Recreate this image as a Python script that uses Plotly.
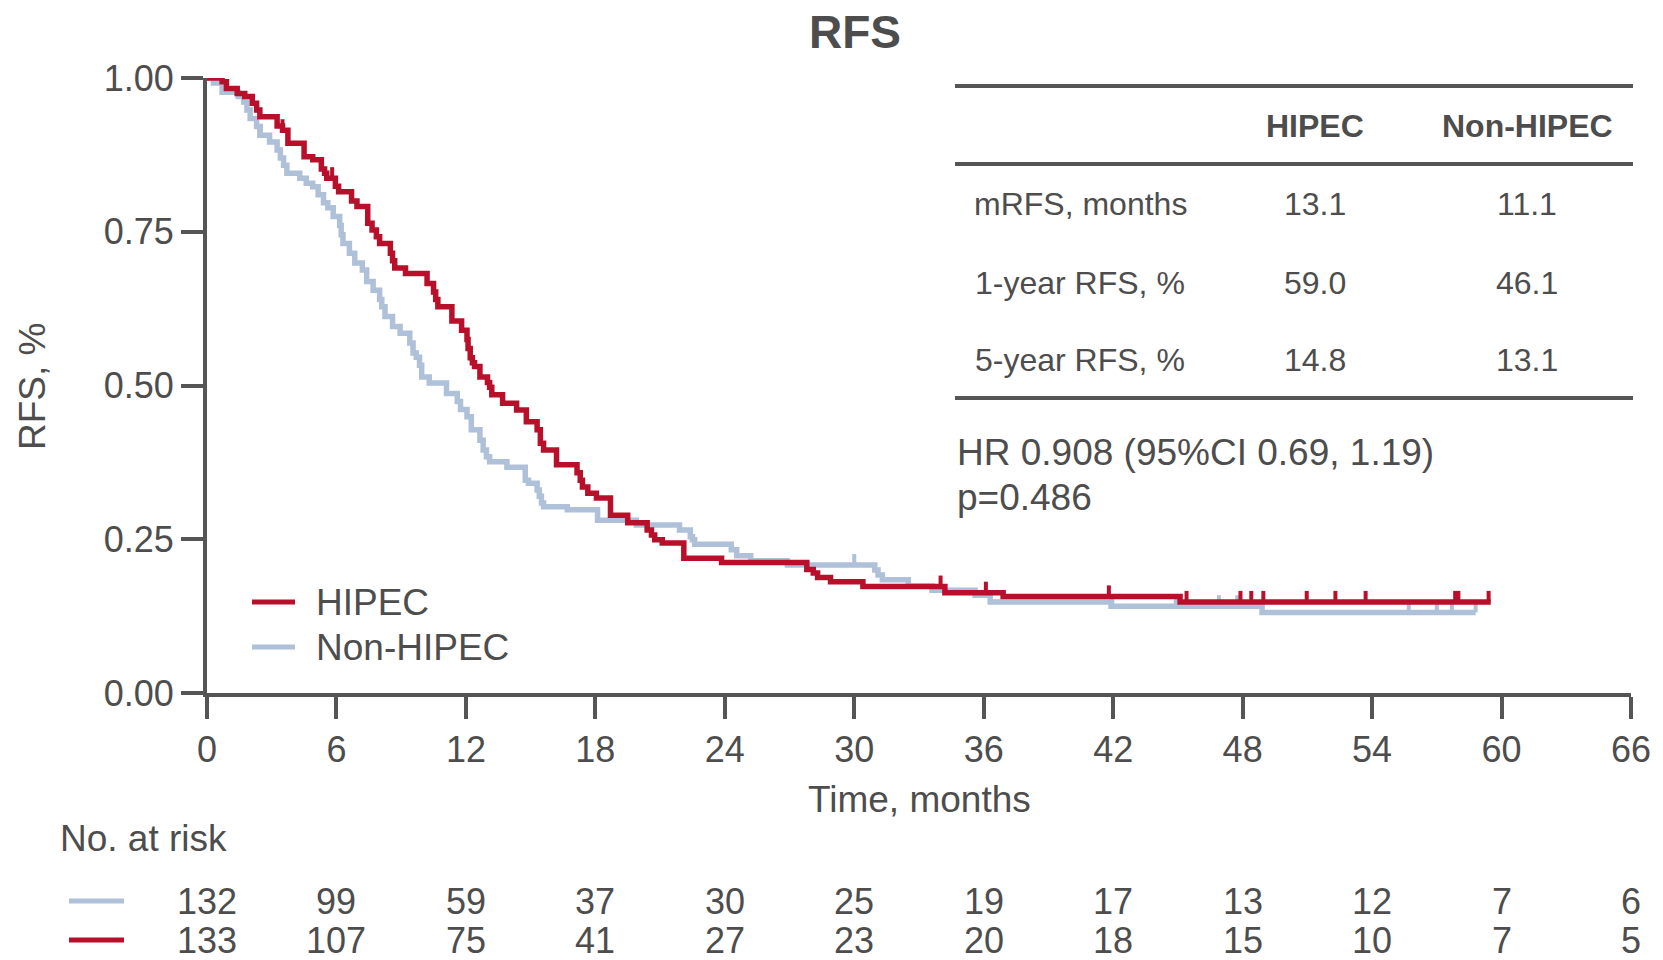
import plotly.graph_objects as go

# ---- Kaplan-Meier step coordinates: month at which each level starts, RFS fraction ----
hipec_t = [0, 0.7, 0.9, 1.4, 1.75, 2.1, 2.3, 2.45, 3.25, 3.5, 3.75, 4.5, 4.9, 5.3, 5.45,
           5.55, 5.95, 6.1, 6.7, 6.95, 7.45, 7.65, 7.85, 8.0, 8.5, 8.6, 8.7, 9.2, 10.2,
           10.5, 10.6, 10.7, 11.35, 11.8, 12.05, 12.1, 12.2, 12.3, 12.4, 12.65, 13.0,
           13.1, 13.2, 13.7, 14.35, 14.8, 15.3, 15.45, 15.6, 16.2, 17.15, 17.3, 17.4,
           17.65, 18.05, 18.7, 19.5, 20.4, 20.6, 20.75, 21.1, 22.1, 23.85, 27.8, 28.1,
           28.3, 28.9, 30.4, 34.2, 36.9, 45.1, 59.5]
hipec_s = [1.0, 0.994, 0.983, 0.975, 0.970, 0.959, 0.948, 0.937, 0.922, 0.915, 0.894,
           0.872, 0.867, 0.852, 0.845, 0.837, 0.824, 0.815, 0.800, 0.791, 0.764, 0.753,
           0.742, 0.731, 0.715, 0.703, 0.691, 0.682, 0.666, 0.652, 0.640, 0.628, 0.605,
           0.590, 0.575, 0.560, 0.545, 0.537, 0.531, 0.514, 0.505, 0.497, 0.485, 0.471,
           0.460, 0.441, 0.428, 0.406, 0.395, 0.371, 0.358, 0.346, 0.335, 0.325, 0.317,
           0.289, 0.277, 0.265, 0.257, 0.249, 0.244, 0.219, 0.212, 0.201, 0.195, 0.188,
           0.181, 0.173, 0.163, 0.157, 0.148, 0.148]

non_t = [0, 0.3, 0.7, 1.45, 1.7, 1.85, 2.0, 2.3, 2.45, 2.9, 3.25, 3.4, 3.55, 3.7, 4.3,
         4.6, 4.9, 5.15, 5.4, 5.6, 5.85, 6.15, 6.22, 6.3, 6.6, 6.85, 7.2, 7.4, 7.7, 8.0,
         8.1, 8.25, 8.6, 8.95, 9.4, 9.55, 9.7, 9.85, 9.95, 10.3, 11.1, 11.6, 11.75, 12.05,
         12.25, 12.65, 12.8, 12.95, 13.1, 13.9, 14.75, 14.9, 15.3, 15.4, 15.5, 15.6, 16.7,
         18.1, 19.9, 21.9, 22.4, 22.5, 22.6, 24.3, 24.55, 25.2, 26.9, 30.95, 31.1, 31.3,
         32.5, 33.6, 35.6, 36.3, 41.9, 48.9, 58.8]
non_s = [1.0, 0.992, 0.977, 0.970, 0.961, 0.948, 0.934, 0.921, 0.907, 0.896, 0.883,
         0.870, 0.858, 0.845, 0.837, 0.829, 0.823, 0.810, 0.797, 0.789, 0.775, 0.760,
         0.745, 0.731, 0.715, 0.699, 0.688, 0.669, 0.655, 0.640, 0.628, 0.612, 0.596,
         0.585, 0.569, 0.553, 0.546, 0.533, 0.514, 0.504, 0.487, 0.474, 0.461, 0.449,
         0.428, 0.411, 0.395, 0.384, 0.376, 0.367, 0.346, 0.341, 0.330, 0.320, 0.309,
         0.303, 0.298, 0.281, 0.273, 0.265, 0.254, 0.249, 0.242, 0.233, 0.223, 0.215,
         0.208, 0.200, 0.192, 0.184, 0.174, 0.167, 0.159, 0.148, 0.141, 0.131, 0.131]

# censoring times (months)
hipec_cens = [0.3, 0.7, 3.5, 5.8, 11.8, 34.0, 36.1, 41.8, 45.4, 47.9, 48.4, 48.96,
              50.97, 52.3, 53.7, 57.85, 58.0, 59.4]
non_cens = [2.5, 18.1, 30.0, 41.96, 44.9, 46.9, 47.75, 55.7, 57.0, 57.7, 58.8]

# numbers at risk
risk_times = [0, 6, 12, 18, 24, 30, 36, 42, 48, 54, 60, 66]
risk_non = [132, 99, 59, 37, 30, 25, 19, 17, 13, 12, 7, 6]
risk_hipec = [133, 107, 75, 41, 27, 23, 20, 18, 15, 10, 7, 5]

# summary table
table_cols = ["HIPEC", "Non-HIPEC"]
table_rows = ["mRFS, months", "1-year RFS, %", "5-year RFS, %"]
table_hipec = ["13.1", "59.0", "14.8"]
table_non = ["11.1", "46.1", "13.1"]
hr_text = "HR 0.908 (95%CI 0.69, 1.19)"
p_text = "p=0.486"

RED = "#B8102B"
BLUE = "#AFC0D9"
INK = "#4D4D4D"
AXIS = "#555555"
FONT = "Liberation Sans, Arial, sans-serif"

W, H = 1663, 960
L, R, T, B = 207, 32, 78, 267
PW, PH = W - L - R, H - T - B


def px(x):
    return (x - L) / PW


def py(y):
    return (H - B - y) / PH


def level_at(ts, ss, t):
    val = ss[0]
    for ti, si in zip(ts, ss):
        if ti <= t:
            val = si
    return val


def censor_marks(ts, ss, times, height=0.018):
    xs, ys = [], []
    for c in times:
        s = level_at(ts, ss, c)
        xs += [c, c, None]
        ys += [s, s + height, None]
    return xs, ys


def label(text, x, y, size, xanchor="center", xref="paper", **kw):
    return dict(text=text, x=x, y=y, xref=xref, yref="paper", xanchor=xanchor,
                yanchor="middle", showarrow=False,
                font=dict(size=size, color=INK, family=FONT), **kw)


fig = go.Figure()

for ts, ss, cens, col, name in [(non_t, non_s, non_cens, BLUE, "Non-HIPEC"),
                                (hipec_t, hipec_s, hipec_cens, RED, "HIPEC")]:
    fig.add_trace(go.Scatter(x=ts, y=ss, mode="lines", line=dict(color=col, width=5.5, shape="hv"),
                             name=name, showlegend=False, cliponaxis=False))
    cx, cy = censor_marks(ts, ss, cens)
    fig.add_trace(go.Scatter(x=cx, y=cy, mode="lines", line=dict(color=col, width=4),
                             showlegend=False, cliponaxis=False, hoverinfo="skip"))

ann = []
shapes = []

# title and axis titles
ann.append(label("<b>RFS</b>", px(855), py(32), 46))
ann.append(label("RFS, %", px(32), py(387), 37, textangle=-90))
ann.append(label("Time, months", 0.5, py(799), 37))

# in-plot legend
for name, col, yy in [("HIPEC", RED, 602), ("Non-HIPEC", BLUE, 647)]:
    shapes.append(dict(type="line", xref="paper", yref="paper", x0=px(252), x1=px(295),
                       y0=py(yy), y1=py(yy), line=dict(color=col, width=5)))
    ann.append(label(name, px(314), py(yy), 37, xanchor="left"))

# summary table
for yy in [86, 164, 398]:
    shapes.append(dict(type="line", xref="paper", yref="paper", x0=px(955), x1=px(1633),
                       y0=py(yy), y1=py(yy), line=dict(color=AXIS, width=4)))
col_x = [1315, 1527]
for cx_, head in zip(col_x, table_cols):
    ann.append(label(f"<b>{head}</b>", px(cx_), py(126), 32))
for yy, lab, a, b in zip([204, 283, 360], table_rows, table_hipec, table_non):
    ann.append(label(lab, px(1080), py(yy), 32))
    for cx_, v in zip(col_x, [a, b]):
        ann.append(label(v, px(cx_), py(yy), 32))
for yy, txt in [(452, hr_text), (498, p_text)]:
    ann.append(label(txt, px(955), py(yy), 37, xanchor="left"))

# numbers at risk
ann.append(label("No. at risk", px(58), py(838), 37, xanchor="left"))
for counts, col, yy in [(risk_non, BLUE, 901), (risk_hipec, RED, 940)]:
    shapes.append(dict(type="line", xref="paper", yref="paper", x0=px(69), x1=px(124),
                       y0=py(yy), y1=py(yy), line=dict(color=col, width=5)))
    for t, n in zip(risk_times, counts):
        ann.append(label(str(n), t, py(yy), 36, xref="x"))

fig.update_layout(
    width=W, height=H, autosize=False,
    margin=dict(l=L, r=R, t=T, b=B, pad=0),
    paper_bgcolor="white", plot_bgcolor="white",
    font=dict(family=FONT, color=INK),
    annotations=ann, shapes=shapes,
    xaxis=dict(range=[0, 66], tickvals=risk_times, showline=True, linewidth=4, linecolor=AXIS,
               ticks="outside", ticklen=22, tickwidth=4, tickcolor=AXIS, showgrid=False,
               zeroline=False, tickfont=dict(size=36, color=INK, family=FONT)),
    yaxis=dict(range=[0, 1], tickvals=[0, 0.25, 0.5, 0.75, 1.0], tickformat=".2f",
               showline=True, linewidth=4, linecolor=AXIS, ticks="outside", ticklen=22,
               tickwidth=4, tickcolor=AXIS, showgrid=False, zeroline=False,
               tickfont=dict(size=36, color=INK, family=FONT)),
)

fig.write_html("out.html")
